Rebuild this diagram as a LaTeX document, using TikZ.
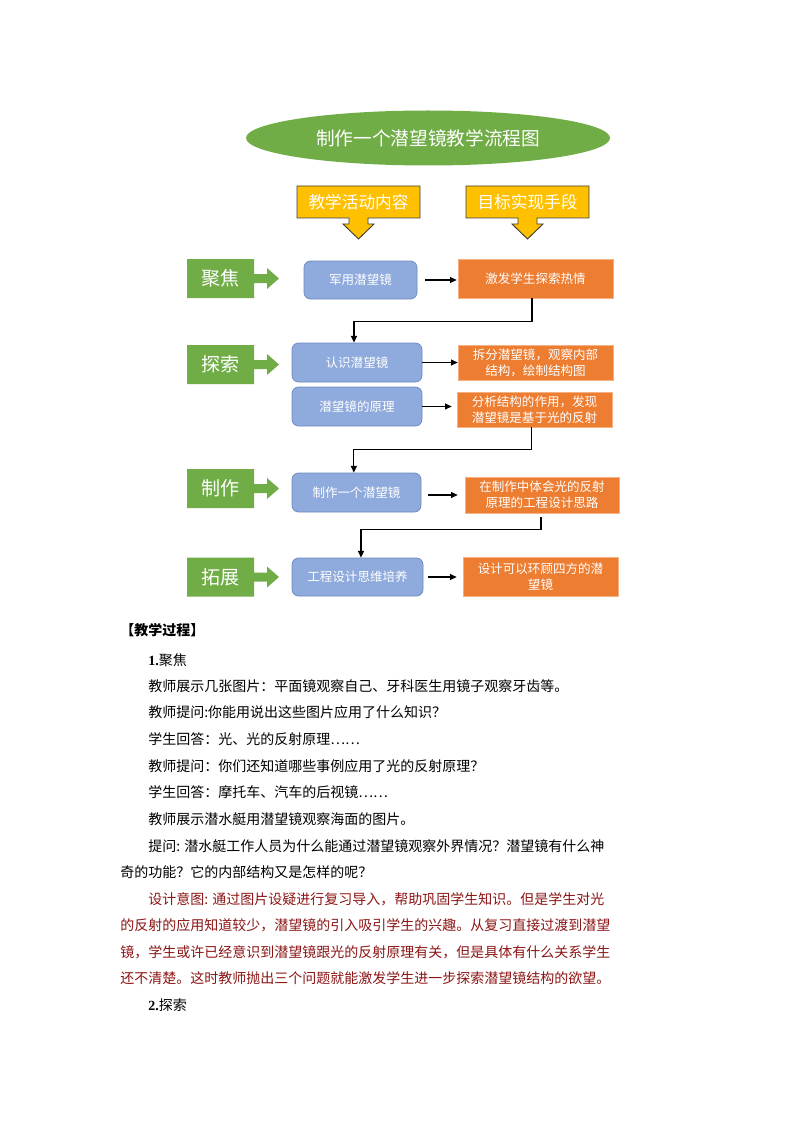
\documentclass[tikz,border=0pt]{standalone}
\usepackage{fontspec}
\setmainfont{Noto Sans CJK SC}
\newfontfamily\tnr{Liberation Serif}
\usetikzlibrary{arrows.meta,shapes.geometric}
\XeTeXlinebreaklocale "zh"
\XeTeXlinebreakskip=0pt plus 1pt
\definecolor{ogreen}{HTML}{70AD47}
\definecolor{oyellow}{HTML}{FFC000}
\definecolor{oblue}{HTML}{8FAADC}
\definecolor{obluedark}{HTML}{6E8BC2}
\definecolor{oorange}{HTML}{ED7D31}
\definecolor{oorangeedge}{HTML}{F4B183}
\definecolor{dred}{HTML}{8C1515}
\newcommand\rbox[7]{\node[#2, minimum width={(#5-#3)*0.75pt}, minimum height={(#6-#4)*0.75pt}] (#1) at ({(#3+#5)/2},{(#4+#6)/2}) {#7};}
\newcommand\callout[3]{%
\filldraw[fill=oyellow, draw=black!75, line width=0.7pt, line join=miter]
 ({#1-61.5},186) -- ({#1+61.5},186) -- ({#1+61.5},218) -- ({#1+9.5},218) -- ({#1+9.5},224) -- ({#1+15.5},224) -- (#1,239) -- ({#1-15.5},224) -- ({#1-9.5},224) -- ({#1-9.5},218) -- ({#1-61.5},218) -- cycle;
\node[calltext] (#2) at (#1,202) {#3};}
\newcommand\gtag[3]{%
\fill[ogreen] (187,{#1-19.5}) -- (254,{#1-19.5}) -- (254,{#1-4.5}) -- (267,{#1-4.5}) -- (267,{#1-10.5}) -- (279,#1) -- (267,{#1+10.5}) -- (267,{#1+4.5}) -- (254,{#1+4.5}) -- (254,{#1+19.5}) -- (187,{#1+19.5}) -- cycle;
\node[gtext] (#2) at (220.5,#1) {#3};}
\begin{document}
\begin{tikzpicture}[x=0.75pt,y=-0.75pt,
  bluebox/.style={draw=obluedark, fill=oblue, rounded corners=5pt, line width=0.6pt, text=white, font=\fontsize{9.4pt}{11pt}\selectfont, inner sep=0pt, align=center},
  orangebox/.style={fill=oorange, draw=oorangeedge, line width=0.5pt, text=white, font=\fontsize{9.4pt}{12pt}\selectfont, inner sep=0pt, align=center},
  calltext/.style={text=white, font=\fontsize{12.5pt}{14pt}\selectfont, inner sep=0pt},
  gtext/.style={text=white, font=\fontsize{14.3pt}{16pt}\selectfont, inner sep=0pt},
  conn/.style={line width=0.9pt, -{Triangle[length=5pt,width=4.5pt]}},
  body/.style={anchor=base west, inner sep=0pt, font=\fontsize{10.5pt}{12pt}\selectfont},
  jbody/.style={body, align=justify},
  redtxt/.style={text=dred}]
\useasboundingbox (0,0) rectangle (794,1123);
\fill[white] (0,0) rectangle (794,1123);
% title
\node[ellipse, fill=ogreen, minimum width={364*0.75pt}, minimum height={55*0.75pt}, text=white, font=\fontsize{14pt}{16pt}\selectfont] (title) at (428,138) {制作一个潜望镜教学流程图};
% callouts
\callout{358.5}{h1}{教学活动内容}
\callout{527.5}{h2}{目标实现手段}
% green tags
\gtag{278.5}{g1}{聚焦}
\gtag{364.5}{g2}{探索}
\gtag{488.5}{g3}{制作}
\gtag{577}{g4}{拓展}
% blue boxes
\rbox{b1}{bluebox}{304}{261}{417}{299}{军用潜望镜}
\rbox{b2}{bluebox}{292}{343}{422}{382}{认识潜望镜}
\rbox{b2b}{bluebox}{292}{387}{422}{426}{潜望镜的原理}
\rbox{b3}{bluebox}{292}{473}{421}{512}{制作一个潜望镜}
\rbox{b4}{bluebox}{292}{558}{423}{596}{工程设计思维培养}
% orange boxes
\rbox{o1}{orangebox}{458}{259}{613}{298}{激发学生探索热情}
\rbox{o2}{orangebox}{458}{345}{613}{380}{拆分潜望镜，观察内部\\结构，绘制结构图}
\rbox{o2b}{orangebox}{457}{392}{612}{427}{分析结构的作用，发现\\潜望镜是基于光的反射}
\rbox{o3}{orangebox}{465}{477}{619}{513}{在制作中体会光的反射\\原理的工程设计思路}
\rbox{o4}{orangebox}{463}{557}{618}{596}{设计可以环顾四方的潜\\望镜}
% horizontal arrows
\draw[conn, shorten <=6pt, shorten >=0.75pt] (b1.east) -- (b1.east -| o1.west);
\draw[conn] (b2.east) -- (b2.east -| o2.west);
\draw[conn, shorten >=3.75pt] (b2b.east) -- (b2b.east -| o2b.west);
\draw[conn, shorten <=5.25pt, shorten >=5.25pt] (b3.east |- o3.west) -- (o3.west);
\draw[conn, shorten <=3.75pt, shorten >=4.5pt] (b4.east) -- (b4.east -| o4.west);
% vertical connectors
\draw[conn] ([xshift=-2.6pt]o1.south) -- ++(0,23) -| ([xshift=-2.25pt]b2.north);
\draw[conn] ([xshift=-2pt]o2b.south) -- ++(0,22) -| ([xshift=-2pt]b3.north);
\draw[conn, shorten <=3pt] ([xshift=-0.75pt]o3.south) -- ++(0,16) -| ([xshift=2.6pt]b4.north);
% body text
\node[body] (t0) at (120,635) {\bfseries 【教学过程】};
\node[body] (t1) at (148,665) {{\tnr\bfseries 1.}聚焦};
\node[body] (t2) at (148,691) {教师展示几张图片：平面镜观察自己、牙科医生用镜子观察牙齿等。};
\node[body] (t3) at (148,717) {教师提问:你能用说出这些图片应用了什么知识？};
\node[body] (t4) at (148,744) {学生回答：光、光的反射原理……};
\node[body] (t5) at (148,771) {教师提问：你们还知道哪些事例应用了光的反射原理？};
\node[body] (t6) at (148,797) {学生回答：摩托车、汽车的后视镜……};
\node[body] (t7) at (148,824) {教师展示潜水艇用潜望镜观察海面的图片。};
\node[jbody, text width=345pt] (t8) at (148,851) {\parfillskip=0pt\tolerance=10000\relax 提问: 潜水艇工作人员为什么能通过潜望镜观察外界情况？潜望镜有什么神};
\node[body] (t9) at (120,877) {奇的功能？它的内部结构又是怎样的呢？};
\node[jbody, redtxt, text width=351.75pt] (r1) at (148,904) {\parfillskip=0pt\tolerance=10000\relax 设计意图: 通过图片设疑进行复习导入，帮助巩固学生知识。但是学生对光};
\node[jbody, redtxt, text width=372.75pt] (r2) at (120,930) {\parfillskip=0pt\tolerance=10000\relax 的反射的应用知道较少，潜望镜的引入吸引学生的兴趣。从复习直接过渡到潜望};
\node[jbody, redtxt, text width=372.75pt] (r3) at (120,957) {\parfillskip=0pt\tolerance=10000\relax 镜，学生或许已经意识到潜望镜跟光的反射原理有关，但是具体有什么关系学生};
\node[jbody, redtxt, text width=375.75pt] (r4) at (120,983) {\parfillskip=0pt\tolerance=10000\relax 还不清楚。这时教师抛出三个问题就能激发学生进一步探索潜望镜结构的欲望。};
\node[body] (t10) at (148,1010) {{\tnr\bfseries 2.}探索};
\end{tikzpicture}
\end{document}
